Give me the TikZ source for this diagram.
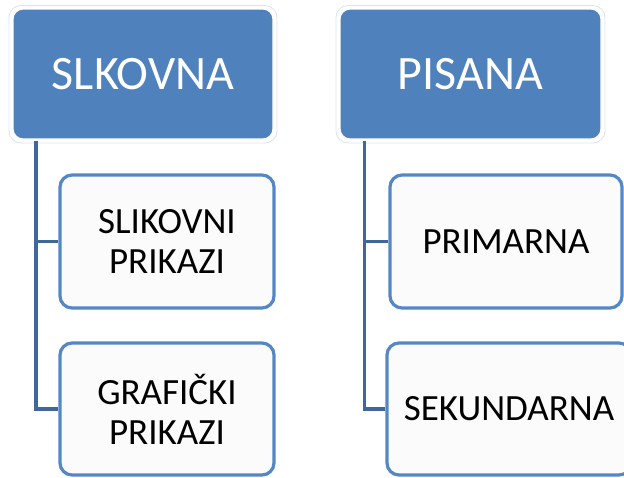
\documentclass[tikz,border=0pt]{standalone}
\usepackage{fontspec}
\setmainfont{Carlito}
\definecolor{topblue}{HTML}{4F81BD}
\definecolor{edgeblue}{HTML}{5587C4}
\definecolor{connblue}{HTML}{41679A}
\definecolor{halo}{HTML}{DCE3EC}
\definecolor{childfill}{HTML}{FBFBFB}
\tikzset{
  topbox/.style={rectangle, rounded corners=10pt, fill=topblue, draw=white, line width=1.2pt,
    text=white, font=\fontsize{48}{55}\selectfont, inner sep=0pt, align=center},
  childbox/.style={rectangle, rounded corners=12pt, fill=childfill, draw=edgeblue, line width=3.2pt,
    text=black, font=\fontsize{37}{40}\selectfont, inner sep=0pt, align=center},
  conn/.style={draw=connblue, line width=3.5pt},
}
\begin{document}
\begin{tikzpicture}[x=1pt,y=-1pt]
\useasboundingbox (0,0) rectangle (624,477);
% halos around top boxes
\draw[halo, line width=0.8pt, rounded corners=12pt] (9,5.5) rectangle (277,143);
\draw[halo, line width=0.8pt, rounded corners=12pt] (336,5.5) rectangle (605,143);
\node[topbox, minimum width=260pt, minimum height=130pt] (tl) at (143,74) {SLKOVNA};
\node[topbox, minimum width=261pt, minimum height=130pt] (tr) at (470.5,74) {PISANA};
\node[childbox, minimum width=214pt, minimum height=133pt] (l1) at (167,241.5) {SLIKOVNI\\PRIKAZI};
\node[childbox, minimum width=214pt, minimum height=132pt] (l2) at (167,409) {GRAFIČKI\\PRIKAZI};
\node[childbox, minimum width=232pt, minimum height=133pt] (r1) at (506,241.5) {PRIMARNA};
\node[childbox, minimum width=244pt, minimum height=132pt] (r2) at (509,409) {SEKUNDARNA};
\draw[conn] ([xshift=23.5pt,yshift=-1pt]tl.south west) |- (l1.west);
\draw[conn] ([xshift=23.5pt,yshift=-1pt]tl.south west) |- (l2.west);
\draw[conn] ([xshift=25pt,yshift=-1pt]tr.south west) |- (r1.west);
\draw[conn] ([xshift=25pt,yshift=-1pt]tr.south west) |- (r2.west);
\end{tikzpicture}
\end{document}
